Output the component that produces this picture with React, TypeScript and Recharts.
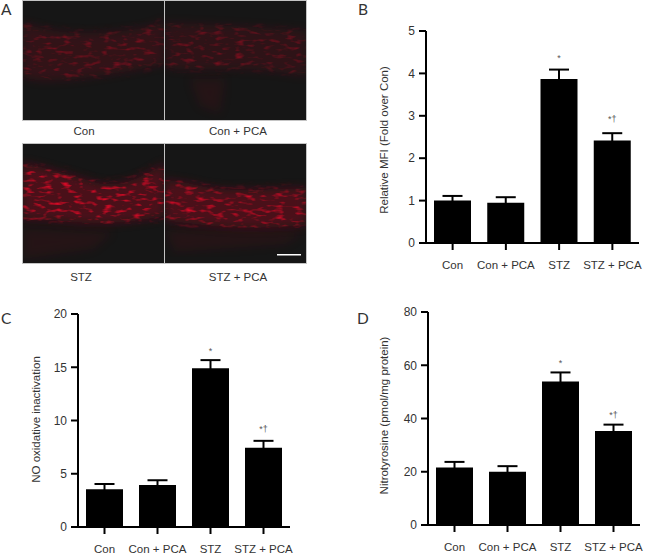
import { Bar, ComposedChart, ErrorBar, LabelList, Line, XAxis, YAxis } from "recharts";

const categories = ["Con", "Con + PCA", "STZ", "STZ + PCA"];
const marks = [null, null, "*", "*†"];

const mfiValues = [1.0, 0.95, 3.87, 2.42];
const mfiErrors = [0.11, 0.13, 0.22, 0.17];
const mfiMarkPos = [null, null, 4.37, 2.93];
const mfiTicks = [0, 1, 2, 3, 4, 5];

const noValues = [3.54, 3.95, 14.9, 7.43];
const noErrors = [0.5, 0.44, 0.77, 0.66];
const noMarkPos = [null, null, 16.5, 9.2];
const noTicks = [0, 5, 10, 15, 20];

const nitroValues = [21.6, 20, 53.9, 35.3];
const nitroErrors = [2.1, 2.1, 3.4, 2.4];
const nitroMarkPos = [null, null, 61, 41.3];
const nitroTicks = [0, 20, 40, 60, 80];

const FONT = "'Liberation Sans', Arial, sans-serif";
const INK = "#333";

function buildRows(values: number[], errors: number[], markPos: (number | null)[]) {
  return categories.map((name, i) => ({
    name,
    value: values[i],
    err: errors[i],
    markPos: markPos[i],
    mark: marks[i],
  }));
}

type PanelProps = {
  values: number[];
  errors: number[];
  markPos: (number | null)[];
  ticks: number[];
  yLabel: string;
  // plot area on the page
  left: number;
  right: number;
  top: number;
  bottom: number;
  labelX: number;
  labelDy: number;
};

function BarPanel({ values, errors, markPos, ticks, yLabel, left, right, top, bottom, labelX, labelDy }: PanelProps) {
  const boxX = left - 70;
  const boxY = top - 15;
  const width = right - boxX + 10;
  const height = bottom - boxY + 40;
  return (
    <div style={{ position: "absolute", left: boxX, top: boxY }}>
      <ComposedChart
        width={width}
        height={height}
        data={buildRows(values, errors, markPos)}
        margin={{ left: 10, right: 10, top: 15, bottom: 0 }}
        barSize={37}
      >
        <XAxis
          dataKey="name"
          height={40}
          interval={0}
          tickSize={7}
          tickMargin={11}
          stroke="#000"
          strokeWidth={2}
          tick={{ fill: INK, fontSize: 11.5, fontFamily: FONT }}
        />
        <YAxis
          width={60}
          domain={[ticks[0], ticks[ticks.length - 1]]}
          ticks={ticks}
          interval={0}
          tickSize={7}
          tickMargin={4}
          stroke="#000"
          strokeWidth={2}
          tick={{ fill: INK, fontSize: 12, fontFamily: FONT }}
          label={{
            value: yLabel,
            angle: -90,
            position: "center",
            dx: labelX - (left - 30),
            dy: labelDy,
            fill: INK,
            fontSize: 11.5,
            fontFamily: FONT,
          }}
        />
        <Bar dataKey="value" fill="#000" isAnimationActive={false}>
          <ErrorBar dataKey="err" direction="y" width={10} stroke="#000" strokeWidth={2} isAnimationActive={false} />
        </Bar>
        <Line dataKey="markPos" stroke="none" dot={false} legendType="none" isAnimationActive={false}>
          <LabelList dataKey="mark" position="center" fill="#555" fontSize={9} fontFamily={FONT} />
        </Line>
      </ComposedChart>
    </div>
  );
}

// fluorescence micrographs of panel A, outlines in photo pixels
const photoRows = [
  {
    x: 23, y: 1, seed: 3, glow: 0.3, base: 0.32, caption: "Con", capX: 84, capY: 131,
    band: "M0 22 Q40 36 90 31 T141 17 L141 63 Q90 74 50 78 T0 75 Z",
    haze: "",
  },
  {
    x: 165, y: 1, seed: 8, glow: 0.28, base: 0.28, caption: "Con + PCA", capX: 238, capY: 131,
    band: "M0 22 Q70 24 141 30 L141 75 Q90 66 50 68 T0 65 Z",
    haze: "M25 78 L60 78 L55 112 L35 105 Z",
  },
  {
    x: 23, y: 144, seed: 5, glow: 0.8, base: 0.6, caption: "STZ", capX: 81, capY: 277,
    band: "M0 19 Q40 28 70 38 T141 19 L141 72 Q90 82 50 78 T0 76 Z",
    haze: "M0 84 L90 88 L70 105 L0 115 Z",
  },
  {
    x: 165, y: 144, seed: 11, glow: 0.65, base: 0.6, caption: "STZ + PCA", capX: 238, capY: 277,
    band: "M0 36 Q20 38 40 43 T141 44 L141 81 Q90 86 50 82 T0 76 Z",
    haze: "M0 86 L141 88 L120 100 L10 108 Z",
  },
];
const PHOTO_W = 141;
const PHOTO_H = 119;

function Micrograph({ x, y, seed, glow, base, caption, capX, capY, band, haze }: (typeof photoRows)[number]) {
  const id = `tex${seed}`;
  const gain = 4.4 * glow;
  return (
    <>
      <svg
        width={PHOTO_W}
        height={PHOTO_H}
        style={{ position: "absolute", left: x, top: y, outline: "1px solid #c4c4c4" }}
      >
        <defs>
          <filter id={id} x="0" y="0" width="100%" height="100%" colorInterpolationFilters="sRGB">
            <feTurbulence type="fractalNoise" baseFrequency="0.1 0.26" numOctaves={2} seed={seed} result="noise" />
            <feColorMatrix
              in="noise"
              type="matrix"
              values={`0 0 0 0 0.85  0 0 0 0 0.04  0 0 0 0 0.15  ${gain} 0 0 0 ${-gain * 0.52}`}
              result="spots"
            />
            <feGaussianBlur in="spots" stdDeviation={0.6} result="spotsSoft" />
            <feGaussianBlur in="SourceGraphic" stdDeviation={4} result="soft" />
            <feComposite in="spotsSoft" in2="soft" operator="in" />
          </filter>
          <filter id={`${id}b`} x="-20%" y="-20%" width="140%" height="140%">
            <feGaussianBlur stdDeviation={5} />
          </filter>
        </defs>
        <rect width={PHOTO_W} height={PHOTO_H} fill="#161616" />
        <path d={haze} fill="#5a0a18" opacity={0.22} filter={`url(#${id}b)`} />
        <path d={band} fill="#6e0c1e" opacity={base} filter={`url(#${id}b)`} />
        <path d={band} fill="#fff" filter={`url(#${id})`} />
        {seed === 11 && <rect x={112} y={110} width={24} height={1.5} fill="#fff" />}
      </svg>
      <div
        style={{
          position: "absolute",
          left: capX - 50,
          top: capY - 8,
          width: 100,
          height: 16,
          lineHeight: "16px",
          textAlign: "center",
          color: INK,
          fontSize: 11.5,
          fontFamily: FONT,
        }}
      >
        {caption}
      </div>
    </>
  );
}

function PanelLetter({ x, y, children }: { x: number; y: number; children: string }) {
  return (
    <div style={{ position: "absolute", left: x, top: y, fontSize: 15.5, lineHeight: "19px", color: "#333", fontFamily: "Lato, sans-serif" }}>
      {children}
    </div>
  );
}

export default function App() {
  return (
    <div style={{ position: "absolute", left: 0, top: 0, width: 653, height: 556, background: "#fff", overflow: "hidden" }}>
      {photoRows.map((p) => (
        <Micrograph key={p.seed} {...p} />
      ))}
      <PanelLetter x={1} y={0}>A</PanelLetter>
      <PanelLetter x={358} y={0}>B</PanelLetter>
      <PanelLetter x={1} y={309}>C</PanelLetter>
      <PanelLetter x={357} y={309}>D</PanelLetter>
      <BarPanel
        values={mfiValues}
        errors={mfiErrors}
        markPos={mfiMarkPos}
        ticks={mfiTicks}
        yLabel="Relative MFI (Fold over Con)"
        left={426}
        right={639}
        top={31}
        bottom={243}
        labelX={384}
        labelDy={3}
      />
      <BarPanel
        values={noValues}
        errors={noErrors}
        markPos={noMarkPos}
        ticks={noTicks}
        yLabel="NO oxidative inactivation"
        left={78}
        right={290}
        top={314}
        bottom={527}
        labelX={36}
        labelDy={-1}
      />
      <BarPanel
        values={nitroValues}
        errors={nitroErrors}
        markPos={nitroMarkPos}
        ticks={nitroTicks}
        yLabel="Nitrotyrosine (pmol/mg protein)"
        left={428}
        right={640}
        top={312}
        bottom={525}
        labelX={384}
        labelDy={-3}
      />
    </div>
  );
}
